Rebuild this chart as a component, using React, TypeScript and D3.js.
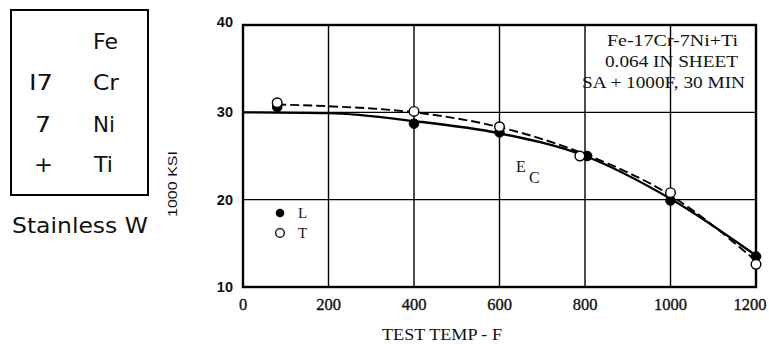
import React from "react";
import * as d3 from "d3";

const xTicks = [0, 200, 400, 600, 800, 1000, 1200];
const yTicks = [10, 20, 30, 40];

const lTemps = [80, 400, 600, 805, 1000, 1200];
const lValues = [30.6, 28.7, 27.7, 25.0, 19.9, 13.5];
const tTemps = [80, 400, 600, 788, 1000, 1200];
const tValues = [31.1, 30.1, 28.35, 25.0, 20.8, 12.6];

const solidFitTemps = [0, 200, 400, 600, 800, 1000, 1200];
const solidFitValues = [30.0, 29.9, 29.0, 27.6, 25.0, 20.1, 13.6];
const dashFitTemps = [80, 200, 400, 600, 800, 1000, 1200];
const dashFitValues = [30.9, 30.7, 30.0, 28.3, 25.2, 20.5, 13.0];

const annotation = ["Fe-17Cr-7Ni+Ti", "0.064 IN SHEET", "SA + 1000F,  30 MIN"];

export default function App() {
  const x = d3.scaleLinear().domain([0, 1200]).range([243, 756]);
  const y = d3.scaleLinear().domain([10, 40]).range([287, 25]);
  const line = d3
    .line<[number, number]>()
    .x((d) => x(d[0]))
    .y((d) => y(d[1]))
    .curve(d3.curveMonotoneX);
  const solid = line(solidFitTemps.map((t, i) => [t, solidFitValues[i]]) as [number, number][]) || "";
  const dashed = line(dashFitTemps.map((t, i) => [t, dashFitValues[i]]) as [number, number][]) || "";
  const serif = "'Liberation Serif', 'DejaVu Serif', serif";
  const sans = "'Liberation Sans', Arial, sans-serif";
  const gothic = "'DejaVu Sans', sans-serif";
  return (
    <svg width={769} height={344} style={{ position: "absolute", left: 0, top: 0, background: "#fff" }}>
      <rect x={0} y={0} width={769} height={344} fill="#fff" />
      {/* left composition box */}
      <rect x={11} y={10} width={137} height={185} fill="none" stroke="#000" strokeWidth={2} />
      <g fontFamily={gothic} fontSize={22} fill="#111">
        <text x={93} y={49} textLength={25} lengthAdjust="spacingAndGlyphs">Fe</text>
        <text x={29} y={90} textLength={24} lengthAdjust="spacingAndGlyphs">I7</text>
        <text x={93} y={90} textLength={26} lengthAdjust="spacingAndGlyphs">Cr</text>
        <text x={35} y={132} textLength={16} lengthAdjust="spacingAndGlyphs">7</text>
        <text x={93} y={132} textLength={22} lengthAdjust="spacingAndGlyphs">Ni</text>
        <text x={34} y={172} textLength={19} lengthAdjust="spacingAndGlyphs">+</text>
        <text x={94} y={172} textLength={19} lengthAdjust="spacingAndGlyphs">Ti</text>
        <text x={12} y={233} textLength={136} lengthAdjust="spacingAndGlyphs">Stainless W</text>
      </g>
      <text
        transform="translate(177,184) rotate(-90)"
        textAnchor="middle"
        fontFamily={sans}
        fontSize={12}
        fill="#111"
        textLength={66}
        lengthAdjust="spacingAndGlyphs"
      >
        1000 KSI
      </text>
      {/* grid */}
      <g stroke="#000" strokeWidth={1.4}>
        {xTicks.map((t) => (
          <line key={"gx" + t} x1={x(t)} x2={x(t)} y1={y(10)} y2={y(40)} />
        ))}
        {yTicks.map((t) => (
          <line key={"gy" + t} x1={x(0)} x2={x(1200)} y1={y(t)} y2={y(t)} />
        ))}
      </g>
      <rect x={x(0)} y={y(40)} width={x(1200) - x(0)} height={y(10) - y(40)} fill="none" stroke="#000" strokeWidth={2.4} />
      {/* tick labels */}
      <g fontFamily={sans} fontSize={14.5} fontWeight="bold" fill="#111" textAnchor="end">
        {yTicks.map((t) => (
          <text key={"yl" + t} x={233} y={y(t) + 5 - (t === 40 ? 3 : 0)}>
            {t}
          </text>
        ))}
      </g>
      <g fontFamily={serif} fontSize={16.5} fill="#111" stroke="#111" strokeWidth={0.35} textAnchor="middle">
        {xTicks.map((t) => (
          <text key={"xl" + t} x={x(t) + (t === 1200 ? -6 : 0)} y={310}>
            {t}
          </text>
        ))}
      </g>
      <text x={382} y={340} fontFamily={serif} fontSize={16} fill="#111" textLength={120} lengthAdjust="spacingAndGlyphs">
        TEST TEMP  -  F
      </text>
      {/* annotation */}
      <g fontFamily={serif} fontSize={16} fill="#111">
        <text x={607} y={46} textLength={131} lengthAdjust="spacingAndGlyphs">{annotation[0]}</text>
        <text x={605} y={67} textLength={133} lengthAdjust="spacingAndGlyphs">{annotation[1]}</text>
        <text x={582} y={88} textLength={163} lengthAdjust="spacingAndGlyphs">{annotation[2]}</text>
      </g>
      {/* E_C label */}
      <g fontFamily={serif} fill="#111">
        <text x={516} y={172} fontSize={16}>E</text>
        <text x={529} y={183} fontSize={16}>C</text>
      </g>
      {/* curves */}
      <path d={solid} fill="none" stroke="#000" strokeWidth={2.3} />
      <path d={dashed} fill="none" stroke="#000" strokeWidth={1.9} strokeDasharray="9,4" />
      {/* markers */}
      {lTemps.map((t, i) => (
        <circle key={"l" + i} cx={x(t)} cy={y(lValues[i])} r={4.8} fill="#000" stroke="#000" strokeWidth={1} />
      ))}
      {tTemps.map((t, i) => (
        <circle key={"t" + i} cx={x(t)} cy={y(tValues[i])} r={4.8} fill="#fff" stroke="#000" strokeWidth={1.4} />
      ))}
      {/* legend */}
      <circle cx={280} cy={213} r={4.3} fill="#000" />
      <text x={298} y={218} fontFamily={serif} fontSize={15} fill="#111">L</text>
      <circle cx={280} cy={233} r={4.3} fill="#fff" stroke="#000" strokeWidth={1.3} />
      <text x={298} y={238} fontFamily={serif} fontSize={15} fill="#111">T</text>
    </svg>
  );
}
